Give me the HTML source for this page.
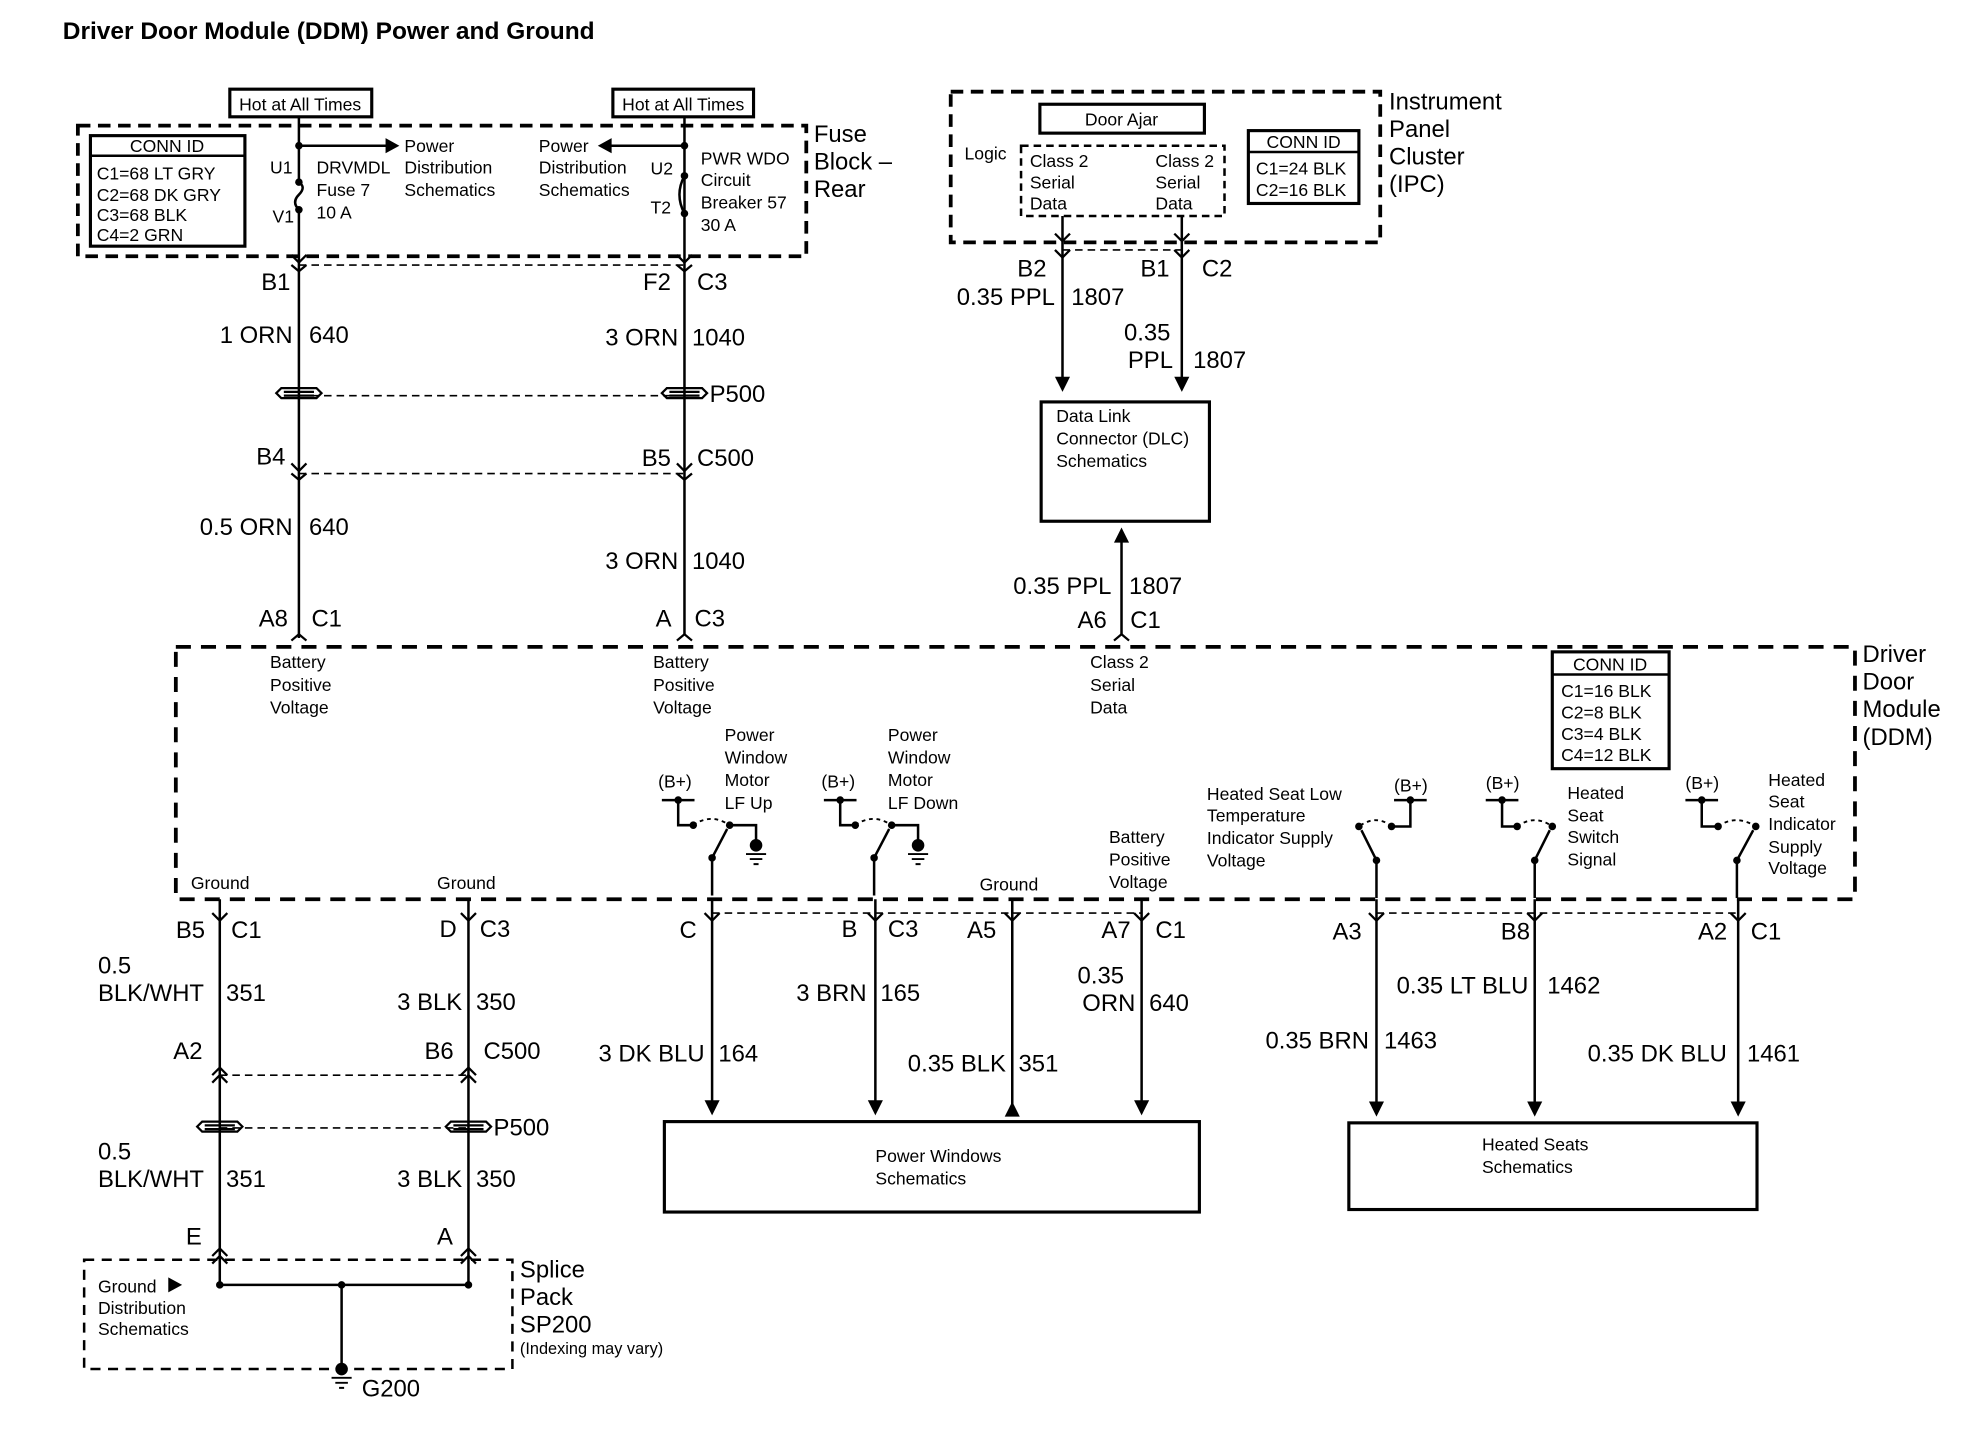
<!DOCTYPE html>
<html><head><meta charset="utf-8"><style>
html,body{margin:0;padding:0;background:#fff;}
svg{display:block;}
text{font-family:"Liberation Sans",Arial,sans-serif;fill:#000;}
.s{font-size:14px;}
.m{font-size:19px;}
</style></head><body>
<svg width="1968" height="1440" viewBox="0 0 1567 1146.5" preserveAspectRatio="none" xmlns="http://www.w3.org/2000/svg">
<g fill="none" stroke="#000">
<rect x="62" y="100" width="580" height="104" stroke-width="3" stroke-dasharray="10,6"/>
<rect x="757" y="73" width="342" height="120" stroke-width="3" stroke-dasharray="10,6"/>
<rect x="140" y="515" width="1337" height="201" stroke-width="3" stroke-dasharray="12,8"/>
<rect x="67" y="1003" width="341" height="87" stroke-width="2" stroke-dasharray="8,6"/>
<rect x="813" y="116" width="162" height="56" stroke-width="2" stroke-dasharray="6,4"/>
<rect x="72" y="108" width="123" height="88" stroke-width="2.5"/>
<line x1="72" y1="124" x2="195" y2="124" stroke-width="2"/>
<rect x="183" y="71" width="113" height="22" stroke-width="2.5"/>
<rect x="488" y="71" width="112" height="22" stroke-width="2.5"/>
<rect x="828" y="83" width="131" height="23" stroke-width="2.5"/>
<rect x="994" y="104" width="88" height="58" stroke-width="2.5"/>
<line x1="994" y1="121" x2="1082" y2="121" stroke-width="2"/>
<rect x="829" y="320" width="134" height="95" stroke-width="2.5"/>
<rect x="1236" y="519" width="93" height="93" stroke-width="2.5"/>
<line x1="1236" y1="537" x2="1329" y2="537" stroke-width="2"/>
<rect x="529" y="893" width="426" height="72" stroke-width="2.5"/>
<rect x="1074" y="894" width="325" height="69" stroke-width="2.5"/>
<line x1="238" y1="93" x2="238" y2="145" stroke-width="2"/>
<path d="M238,145 q6,4 0,10 q-6,6 0,12" stroke-width="2"/>
<line x1="238" y1="167" x2="238" y2="508" stroke-width="2"/>
<line x1="238" y1="116" x2="308" y2="116" stroke-width="2"/>
<line x1="545" y1="93" x2="545" y2="506" stroke-width="2"/>
<line x1="545" y1="116" x2="486" y2="116" stroke-width="2"/>
<g stroke-width="1.3" stroke-dasharray="6,4">
<line x1="238" y1="211" x2="545" y2="211"/>
<line x1="238" y1="315" x2="545" y2="315"/>
<line x1="238" y1="377" x2="545" y2="377"/>
<line x1="175" y1="856" x2="373" y2="856"/>
<line x1="175" y1="898" x2="373" y2="898"/>
<line x1="567" y1="727" x2="909" y2="727"/>
<line x1="1096" y1="727" x2="1384" y2="727"/>
<line x1="846" y1="199" x2="941" y2="199"/>
</g>
<g stroke-width="1.8">
<path d="M232,203 L238,209 L244,203 M232,211 L238,216 L244,211"/>
<path d="M539,203 L545,209 L551,203 M539,211 L545,216 L551,211"/>
<path d="M232,369 L238,375 L244,369 M232,377 L238,382 L244,377"/>
<path d="M539,369 L545,375 L551,369 M539,377 L545,382 L551,377"/>
<path d="M232,510 L238,505 L244,510"/>
<path d="M539,510 L545,505 L551,510"/>
<path d="M887,510 L893,505 L899,510"/>
<path d="M840,199 L846,205 L852,199"/>
<path d="M935,199 L941,205 L947,199"/>
<path d="M840,186 L846,192 L852,186"/>
<path d="M935,186 L941,192 L947,186"/>
<path d="M169,727 L175,733 L181,727"/>
<path d="M367,727 L373,733 L379,727"/>
<path d="M561,727 L567,733 L573,727"/>
<path d="M691,727 L697,733 L703,727"/>
<path d="M800,727 L806,733 L812,727"/>
<path d="M903,727 L909,733 L915,727"/>
<path d="M1090,727 L1096,733 L1102,727"/>
<path d="M1216,727 L1222,733 L1228,727"/>
<path d="M1378,727 L1384,733 L1390,727"/>
<path d="M169,856 L175,850 L181,856 M169,862 L175,856 L181,862"/>
<path d="M367,856 L373,850 L379,856 M367,862 L373,856 L379,862"/>
<path d="M169,1000 L175,994 L181,1000 M169,1006 L175,1000 L181,1006"/>
<path d="M367,1000 L373,994 L379,1000 M367,1006 L373,1000 L379,1006"/>
</g>
<g stroke-width="1.8">
<path d="M224,309 h28 l4,4 l-4,4 h-28 l-4,-4 z M226,312 h24 M226,315 h24"/>
<path d="M531,309 h28 l4,4 l-4,4 h-28 l-4,-4 z M533,312 h24 M533,315 h24"/>
<path d="M161,893 h28 l4,4 l-4,4 h-28 l-4,-4 z M163,896 h24 M163,899 h24"/>
<path d="M359,893 h28 l4,4 l-4,4 h-28 l-4,-4 z M361,896 h24 M361,899 h24"/>
</g>
<path d="M545,140 q-8,15 0,30" stroke-width="2"/>
<line x1="846" y1="172" x2="846" y2="302" stroke-width="2"/>
<line x1="941" y1="172" x2="941" y2="302" stroke-width="2"/>
<line x1="893" y1="506" x2="893" y2="430" stroke-width="2"/>
<line x1="175" y1="716" x2="175" y2="1023" stroke-width="2"/>
<line x1="373" y1="716" x2="373" y2="1023" stroke-width="2"/>
<line x1="175" y1="1023" x2="373" y2="1023" stroke-width="2"/>
<line x1="272" y1="1023" x2="272" y2="1090" stroke-width="2"/>
<line x1="567" y1="716" x2="567" y2="878" stroke-width="2"/>
<line x1="697" y1="716" x2="697" y2="878" stroke-width="2"/>
<line x1="806" y1="716" x2="806" y2="880" stroke-width="2"/>
<line x1="909" y1="716" x2="909" y2="878" stroke-width="2"/>
<line x1="1096" y1="716" x2="1096" y2="878" stroke-width="2"/>
<line x1="1222" y1="716" x2="1222" y2="878" stroke-width="2"/>
<line x1="1384" y1="716" x2="1384" y2="878" stroke-width="2"/>
<g stroke-width="2">
<path d="M527,637 h26 M540,637 v20 h12"/><path d="M552,657 q14,-10 29,0" stroke-dasharray="3,3" stroke-width="1.5"/>
<path d="M581,657 h21 v12"/><path d="M567,683 L579,660"/><path d="M567,683 v30"/>
<path d="M656,637 h26 M669,637 v20 h12"/><path d="M681,657 q14,-10 29,0" stroke-dasharray="3,3" stroke-width="1.5"/>
<path d="M710,657 h21 v12"/><path d="M696,683 L708,660"/><path d="M696,683 v30"/>
<path d="M1110,637 h26 M1123,637 v21 h-15"/><path d="M1108,658 q-12,-10 -26,0" stroke-dasharray="3,3" stroke-width="1.5"/><path d="M1096,685 L1084,661"/><path d="M1096,685 v30"/>
<path d="M1183,637 h26 M1196,637 v21 h12"/><path d="M1208,658 q14,-10 28,0" stroke-dasharray="3,3" stroke-width="1.5"/><path d="M1222,685 L1234,661"/><path d="M1222,685 v30"/>
<path d="M1342,637 h26 M1355,637 v21 h13"/><path d="M1368,658 q14,-10 30,0" stroke-dasharray="3,3" stroke-width="1.5"/><path d="M1383,685 L1396,661"/><path d="M1383,685 v30"/>
</g>
</g>
<g fill="#000">
<circle cx="238" cy="116" r="3"/><circle cx="545" cy="116" r="3"/>
<circle cx="238" cy="145" r="3"/><circle cx="238" cy="167" r="3"/>
<circle cx="545" cy="140" r="3"/><circle cx="545" cy="170" r="3"/>
<path d="M318,116 l-11,-6 v12 z"/><path d="M476,116 l11,-6 v12 z"/>
<path d="M846,312 l-6,-12 h12 z"/><path d="M941,312 l-6,-12 h12 z"/>
<path d="M893,420 l-6,12 h12 z"/>
<path d="M567,888 l-6,-12 h12 z"/><path d="M697,888 l-6,-12 h12 z"/><path d="M909,888 l-6,-12 h12 z"/>
<path d="M806,877 l-6,12 h12 z"/>
<path d="M1096,889 l-6,-12 h12 z"/><path d="M1222,889 l-6,-12 h12 z"/><path d="M1384,889 l-6,-12 h12 z"/>
<circle cx="175" cy="1023" r="3"/><circle cx="272" cy="1023" r="3"/><circle cx="373" cy="1023" r="3"/>
<path d="M145,1023 l-11,-6 v12 z"/>
<circle cx="272" cy="1090" r="5"/>
<circle cx="540" cy="637" r="3"/><circle cx="552" cy="657" r="3"/><circle cx="581" cy="657" r="3"/><circle cx="567" cy="683" r="3"/>
<circle cx="669" cy="637" r="3"/><circle cx="681" cy="657" r="3"/><circle cx="710" cy="657" r="3"/><circle cx="696" cy="683" r="3"/>
<circle cx="602" cy="673" r="5"/><circle cx="731" cy="673" r="5"/>
<circle cx="1123" cy="637" r="3"/><circle cx="1108" cy="658" r="3"/><circle cx="1082" cy="658" r="3"/><circle cx="1096" cy="685" r="3"/>
<circle cx="1196" cy="637" r="3"/><circle cx="1208" cy="658" r="3"/><circle cx="1236" cy="658" r="3"/><circle cx="1222" cy="685" r="3"/>
<circle cx="1355" cy="637" r="3"/><circle cx="1368" cy="658" r="3"/><circle cx="1398" cy="658" r="3"/><circle cx="1383" cy="685" r="3"/>
</g>
<g stroke="#000" stroke-width="1.5">
<path d="M594,680 h16 M597,684 h10 M600,688 h4"/>
<path d="M723,680 h16 M726,684 h10 M729,688 h4"/>
<path d="M264,1097 h16 M267,1101 h10 M270,1105 h4"/>
</g>
<text x="50" y="31" style="font-size:19.5px;font-weight:bold">Driver Door Module (DDM) Power and Ground</text>
<g class="s">
<text x="239" y="88" text-anchor="middle">Hot at All Times</text>
<text x="544" y="88" text-anchor="middle">Hot at All Times</text>
<text x="133" y="121" text-anchor="middle">CONN ID</text>
<text x="77" y="143">C1=68 LT GRY</text><text x="77" y="160">C2=68 DK GRY</text><text x="77" y="176">C3=68 BLK</text><text x="77" y="192">C4=2 GRN</text>
<text x="215" y="138">U1</text><text x="217" y="177">V1</text>
<text x="252" y="138">DRVMDL</text><text x="252" y="156">Fuse 7</text><text x="252" y="174">10 A</text>
<text x="322" y="121">Power</text><text x="322" y="138">Distribution</text><text x="322" y="156">Schematics</text>
<text x="429" y="121">Power</text><text x="429" y="138">Distribution</text><text x="429" y="156">Schematics</text>
<text x="518" y="139">U2</text><text x="518" y="170">T2</text>
<text x="558" y="131">PWR WDO</text><text x="558" y="148">Circuit</text><text x="558" y="166">Breaker 57</text><text x="558" y="184">30 A</text>
<text x="893" y="100" text-anchor="middle">Door Ajar</text>
<text x="768" y="127">Logic</text>
<text x="820" y="133">Class 2</text><text x="820" y="150">Serial</text><text x="820" y="167">Data</text>
<text x="920" y="133">Class 2</text><text x="920" y="150">Serial</text><text x="920" y="167">Data</text>
<text x="1038" y="118" text-anchor="middle">CONN ID</text>
<text x="1000" y="139">C1=24 BLK</text><text x="1000" y="156">C2=16 BLK</text>
<text x="841" y="336">Data Link</text><text x="841" y="354">Connector (DLC)</text><text x="841" y="372">Schematics</text>
<text x="215" y="532">Battery</text><text x="215" y="550">Positive</text><text x="215" y="568">Voltage</text>
<text x="520" y="532">Battery</text><text x="520" y="550">Positive</text><text x="520" y="568">Voltage</text>
<text x="868" y="532">Class 2</text><text x="868" y="550">Serial</text><text x="868" y="568">Data</text>
<text x="1282" y="534" text-anchor="middle">CONN ID</text>
<text x="1243" y="555">C1=16 BLK</text><text x="1243" y="572">C2=8 BLK</text><text x="1243" y="589">C3=4 BLK</text><text x="1243" y="606">C4=12 BLK</text>
<text x="577" y="590">Power</text><text x="577" y="608">Window</text><text x="577" y="626">Motor</text><text x="577" y="644">LF Up</text>
<text x="707" y="590">Power</text><text x="707" y="608">Window</text><text x="707" y="626">Motor</text><text x="707" y="644">LF Down</text>
<text x="524" y="627">(B+)</text><text x="654" y="627">(B+)</text>
<text x="961" y="637">Heated Seat Low</text><text x="961" y="654">Temperature</text><text x="961" y="672">Indicator Supply</text><text x="961" y="690">Voltage</text>
<text x="1110" y="630">(B+)</text><text x="1183" y="628">(B+)</text><text x="1342" y="628">(B+)</text>
<text x="1248" y="636">Heated</text><text x="1248" y="654">Seat</text><text x="1248" y="671">Switch</text><text x="1248" y="689">Signal</text>
<text x="1408" y="626">Heated</text><text x="1408" y="643">Seat</text><text x="1408" y="661">Indicator</text><text x="1408" y="679">Supply</text><text x="1408" y="696">Voltage</text>
<text x="883" y="671">Battery</text><text x="883" y="689">Positive</text><text x="883" y="707">Voltage</text>
<text x="152" y="708">Ground</text><text x="348" y="708">Ground</text><text x="780" y="709">Ground</text>
<text x="697" y="925">Power Windows</text><text x="697" y="943">Schematics</text>
<text x="1180" y="916">Heated Seats</text><text x="1180" y="934">Schematics</text>
<text x="78" y="1029">Ground</text><text x="78" y="1046">Distribution</text><text x="78" y="1063">Schematics</text>
<text x="414" y="1078" style="font-size:13px">(Indexing may vary)</text>
</g>
<g class="m">
<text x="648" y="113">Fuse</text><text x="648" y="135">Block –</text><text x="648" y="157">Rear</text>
<text x="1106" y="87">Instrument</text><text x="1106" y="109">Panel</text><text x="1106" y="131">Cluster</text><text x="1106" y="153">(IPC)</text>
<text x="1483" y="527">Driver</text><text x="1483" y="549">Door</text><text x="1483" y="571">Module</text><text x="1483" y="593">(DDM)</text>
<text x="414" y="1017">Splice</text><text x="414" y="1039">Pack</text><text x="414" y="1061">SP200</text>
<text x="288" y="1112">G200</text>
<text x="208" y="231">B1</text><text x="512" y="231">F2</text><text x="555" y="231">C3</text>
<text x="233" y="273" text-anchor="end">1 ORN</text><text x="246" y="273">640</text>
<text x="540" y="275" text-anchor="end">3 ORN</text><text x="551" y="275">1040</text>
<text x="565" y="320">P500</text>
<text x="204" y="370">B4</text><text x="511" y="371">B5</text><text x="555" y="371">C500</text>
<text x="233" y="426" text-anchor="end">0.5 ORN</text><text x="246" y="426">640</text>
<text x="540" y="453" text-anchor="end">3 ORN</text><text x="551" y="453">1040</text>
<text x="206" y="499">A8</text><text x="248" y="499">C1</text>
<text x="522" y="499">A</text><text x="553" y="499">C3</text>
<text x="810" y="220">B2</text><text x="908" y="220">B1</text><text x="957" y="220">C2</text>
<text x="840" y="243" text-anchor="end">0.35 PPL</text><text x="853" y="243">1807</text>
<text x="895" y="271">0.35</text><text x="934" y="293" text-anchor="end">PPL</text><text x="950" y="293">1807</text>
<text x="885" y="473" text-anchor="end">0.35 PPL</text><text x="899" y="473">1807</text>
<text x="858" y="500">A6</text><text x="900" y="500">C1</text>
<text x="140" y="747">B5</text><text x="184" y="747">C1</text>
<text x="350" y="746">D</text><text x="382" y="746">C3</text>
<text x="78" y="775">0.5</text><text x="78" y="797">BLK/WHT</text><text x="180" y="797">351</text>
<text x="368" y="804" text-anchor="end">3 BLK</text><text x="379" y="804">350</text>
<text x="138" y="843">A2</text><text x="338" y="843">B6</text><text x="385" y="843">C500</text>
<text x="393" y="904">P500</text>
<text x="78" y="923">0.5</text><text x="78" y="945">BLK/WHT</text><text x="180" y="945">351</text>
<text x="368" y="945" text-anchor="end">3 BLK</text><text x="379" y="945">350</text>
<text x="148" y="991">E</text><text x="348" y="991">A</text>
<text x="541" y="747">C</text><text x="670" y="746">B</text><text x="707" y="746">C3</text>
<text x="770" y="747">A5</text><text x="877" y="747">A7</text><text x="920" y="747">C1</text>
<text x="561" y="845" text-anchor="end">3 DK BLU</text><text x="572" y="845">164</text>
<text x="690" y="797" text-anchor="end">3 BRN</text><text x="701" y="797">165</text>
<text x="801" y="853" text-anchor="end">0.35 BLK</text><text x="811" y="853">351</text>
<text x="858" y="783">0.35</text><text x="904" y="805" text-anchor="end">ORN</text><text x="915" y="805">640</text>
<text x="1061" y="748">A3</text><text x="1195" y="748">B8</text><text x="1352" y="748">A2</text><text x="1394" y="748">C1</text>
<text x="1217" y="791" text-anchor="end">0.35 LT BLU</text><text x="1232" y="791">1462</text>
<text x="1090" y="835" text-anchor="end">0.35 BRN</text><text x="1102" y="835">1463</text>
<text x="1375" y="845" text-anchor="end">0.35 DK BLU</text><text x="1391" y="845">1461</text>
</g>
</svg>
</body></html>
